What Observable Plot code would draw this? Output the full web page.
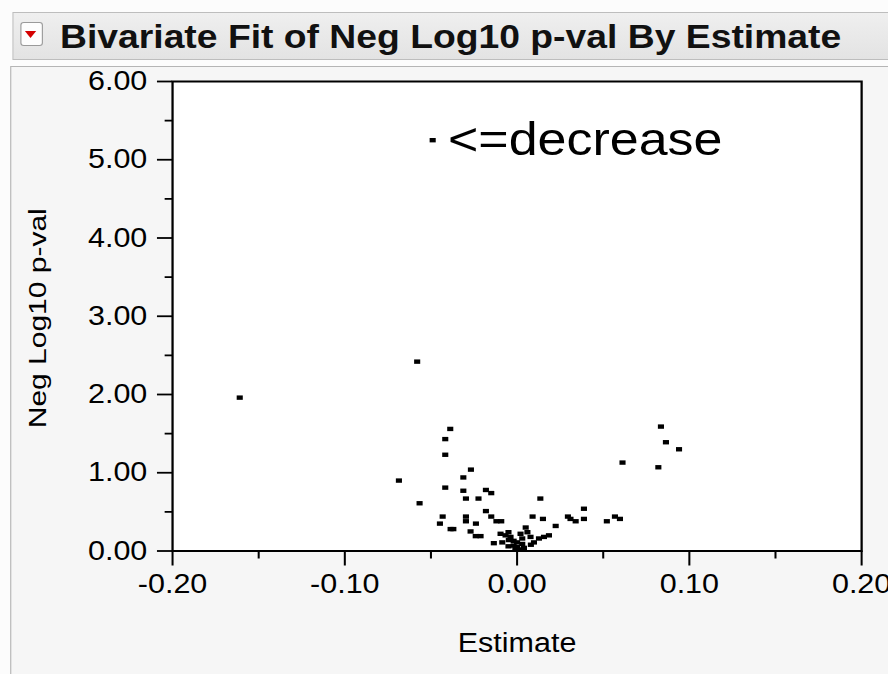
<!DOCTYPE html>
<html><head><meta charset="utf-8">
<script src="https://cdn.jsdelivr.net/npm/d3@7"></script>
<script src="https://cdn.jsdelivr.net/npm/@observablehq/plot@0.6"></script>
<style>
html,body{margin:0;padding:0;background:#fff;overflow:hidden;width:888px;height:674px;}
#page{position:absolute;left:0;top:0;width:786px;height:674px;transform:scaleX(1.13);transform-origin:0 0;font-family:"Liberation Sans",Arial,sans-serif;background:#fcfcfc;}
#titlebar{position:absolute;left:10.6px;top:12px;width:800px;height:46px;border:1px solid #bdbdbd;background:linear-gradient(#efefef,#e3e3e3);}
#icon{position:absolute;left:6px;top:9px;width:18px;height:22px;border:1px solid #9a9a9a;border-radius:3px;background:#fdfdfd;}
#icon::after{content:"";position:absolute;left:3.5px;top:8px;border-left:5.5px solid transparent;border-right:5.5px solid transparent;border-top:7px solid #d40000;}
#title{position:absolute;left:41.5px;top:0;line-height:48px;font-weight:bold;font-size:33px;color:#111;white-space:nowrap;}
#panel{position:absolute;left:8.8px;top:66px;width:800px;height:620px;border:1px solid #b5b5b5;background:#f6f6f6;}
#chart{position:absolute;left:0;top:66px;}
</style>
</head>
<body>
<div id="page">
  <div id="titlebar"><div id="icon"></div><div id="title"></div></div>
  <div id="panel"></div>
  <div id="chart"></div>
</div>
<script>
const title = "Bivariate Fit of Neg Log10 p-val By Estimate";
const xLabel = "Estimate";
const yLabel = "Neg Log10 p-val";
const pointLabel = "<=decrease";
const labeledIndex = 2;

const estimate = [
  -0.161, -0.058, -0.049, -0.0686, -0.0566, -0.0388, -0.0417, -0.0417, -0.0268, -0.0312,
  -0.0417, -0.0312, -0.0297, -0.0224, -0.0181, -0.0150, -0.0432, -0.0448, -0.0386, -0.0370,
  -0.0297, -0.0297, -0.0239, -0.0270, -0.0240, -0.0212, -0.0181, -0.0150, -0.0120, -0.0092,
  -0.0135, -0.0096, -0.0067, -0.0038, -0.0086, -0.0048, -0.0020, -0.0020, 0.0000, 0.0000,
  0.0020, 0.0030, 0.0050, 0.0060, 0.0078, 0.0098, 0.0127, 0.0156, 0.0185, 0.0135,
  0.0090, 0.0150, 0.0224, 0.0295, 0.0310, 0.0340, 0.0388, 0.0388, 0.0521, 0.0568,
  0.0597, 0.0612, 0.0820, 0.0835, 0.0864, 0.0940, 0.0010, -0.0010, 0.0040, -0.0050,
  0.0080, 0.0030, -0.0050
];
const negLog10P = [
  1.96, 2.42, 5.25, 0.90, 0.61, 1.56, 1.43, 1.23, 1.04, 0.94,
  0.81, 0.77, 0.67, 0.67, 0.78, 0.74, 0.44, 0.35, 0.28, 0.28,
  0.44, 0.38, 0.35, 0.25, 0.19, 0.19, 0.51, 0.44, 0.38, 0.38,
  0.10, 0.22, 0.20, 0.18, 0.11, 0.14, 0.13, 0.07, 0.11, 0.05,
  0.22, 0.16, 0.30, 0.24, 0.18, 0.11, 0.16, 0.18, 0.20, 0.67,
  0.44, 0.41, 0.32, 0.44, 0.41, 0.38, 0.54, 0.41, 0.38, 0.44,
  0.41, 1.13, 1.07, 1.59, 1.39, 1.30, 0.02, 0.03, 0.04, 0.06,
  0.08, 0.09, 0.24
];
const yTicks = [0, 1, 2, 3, 4, 5, 6];
const yMinorTicks = [0.5, 1.5, 2.5, 3.5, 4.5, 5.5];
const xTicks = [-0.2, -0.1, 0, 0.1, 0.2];
const xMinorTicks = [-0.15, -0.05, 0.05, 0.15];

document.getElementById("title").textContent = title;

const data = estimate.map((x, i) => ({x, y: negLog10P[i]}));
const rectSymbol = {draw(ctx) { const w = 5.4, h = 4.4; ctx.moveTo(-w/2, -h/2); ctx.lineTo(w/2, -h/2); ctx.lineTo(w/2, h/2); ctx.lineTo(-w/2, h/2); ctx.closePath(); }};
const fmt = d => d.toFixed(2);

const chart = Plot.plot({
  width: 786, height: 608,
  marginTop: 15, marginRight: 24, marginBottom: 123.5, marginLeft: 152.2,
  style: {fontFamily: "Liberation Sans, Arial, sans-serif", background: "transparent", color: "#000", overflow: "visible"},
  x: {domain: [-0.2, 0.2]},
  y: {domain: [0, 6]},
  marks: [
    Plot.frame({fill: "white", stroke: "none"}),
    Plot.dot(data, {x: "x", y: "y", symbol: rectSymbol, fill: "#000", stroke: "none"}),
    Plot.text([data[labeledIndex]], {x: "x", y: "y", text: () => pointLabel, textAnchor: "start", lineAnchor: "middle", dx: 13.5, fontSize: 46, fill: "#000"}),
    Plot.axisY(yTicks, {tickSize: 13.3, tickPadding: 9, tickFormat: fmt, fontSize: 27, strokeWidth: 1.8, label: null}),
    Plot.axisY(yMinorTicks, {tickSize: 6.5, text: null, strokeWidth: 1.8, label: null}),
    Plot.axisX(xTicks, {tickSize: 15, tickPadding: 8, tickFormat: fmt, fontSize: 27, strokeWidth: 1.8, label: null}),
    Plot.axisX(xMinorTicks, {tickSize: 8, text: null, strokeWidth: 1.8, label: null}),
    Plot.frame({stroke: "#000", strokeWidth: 2}),
    Plot.text([xLabel], {text: d => d, frameAnchor: "bottom", dy: 92.5, lineAnchor: "middle", fontSize: 27, fill: "#000"}),
    Plot.text([yLabel], {text: d => d, frameAnchor: "left", rotate: -90, textAnchor: "middle", dx: -118.6, dy: 2, lineAnchor: "middle", fontSize: 30, fill: "#000"})
  ]
});
// JMP draws the rotated axis title tall and thin: squeeze its glyph thickness
d3.select(chart).selectAll("text").filter(function() { return this.textContent === yLabel; })
  .attr("transform", function() { return (this.getAttribute("transform") || "") + " scale(1,0.72)"; });
document.getElementById("chart").appendChild(chart);
</script>
</body></html>
